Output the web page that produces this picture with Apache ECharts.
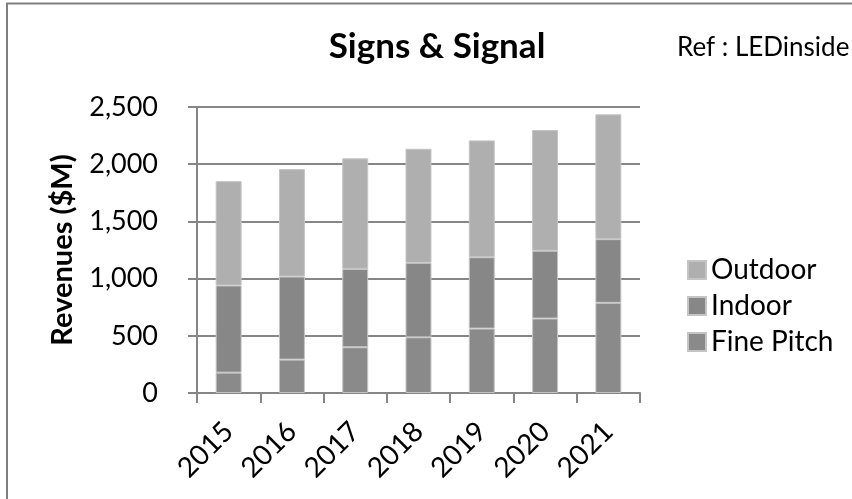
<!DOCTYPE html>
<html>
<head>
<meta charset="utf-8">
<style>
  html, body { margin: 0; padding: 0; background: #fff; }
  #chart { width: 852px; height: 499px; }
</style>
<script src="https://cdn.jsdelivr.net/npm/echarts@6/dist/echarts.min.js"></script>
</head>
<body>
<div id="chart"></div>
<script>
// Signs & Signal LED display revenues, $M, stacked by segment
const years = ['2015', '2016', '2017', '2018', '2019', '2020', '2021'];
const finePitch = [178, 292, 400, 487, 563, 651, 788];
const indoor = [762, 726, 685, 651, 624, 592, 557];
const outdoor = [912, 939, 966, 997, 1021, 1056, 1091];
const yTicks = [0, 500, 1000, 1500, 2000, 2500];

const FONT = 'Lato, "Open Sans", sans-serif';
const AXIS_GRAY = '#868686';

const chart = echarts.init(document.getElementById('chart'), null, { renderer: 'canvas' });

function barSeries(name, data, color) {
  return {
    name: name,
    type: 'bar',
    stack: 'total',
    data: data,
    barCategoryGap: '59%',
    itemStyle: { color: color, borderColor: '#c4c4c4', borderWidth: 1 },
    emphasis: { disabled: true }
  };
}

chart.setOption({
  animation: false,
  backgroundColor: '#ffffff',
  textStyle: { fontFamily: FONT },
  legend: {
    orient: 'vertical',
    left: 682, top: 251,
    itemWidth: 18, itemHeight: 18, itemGap: 8,
    icon: 'rect',
    data: ['Outdoor', 'Indoor', 'Fine Pitch'],
    textStyle: { fontFamily: FONT, fontSize: 28, color: '#000' }
  },
  grid: { left: 197, right: 212, top: 107, bottom: 106, containLabel: false },
  xAxis: {
    type: 'category',
    data: years,
    boundaryGap: true,
    axisLine: { lineStyle: { color: AXIS_GRAY, width: 2 } },
    axisTick: { show: true, length: 10, alignWithLabel: false, lineStyle: { color: AXIS_GRAY, width: 2 } },
    axisLabel: { rotate: 45, margin: 34, fontSize: 28, color: '#000', fontFamily: FONT, interval: 0 }
  },
  yAxis: {
    type: 'value',
    min: yTicks[0],
    max: yTicks[yTicks.length - 1],
    interval: 500,
    name: 'Revenues ($M)',
    nameLocation: 'middle',
    nameGap: 120,
    nameRotate: 90,
    nameTextStyle: { fontFamily: FONT, fontWeight: 'bold', fontSize: 29, color: '#000' },
    axisLine: { show: true, lineStyle: { color: AXIS_GRAY, width: 2 } },
    axisTick: { show: true, length: 9, lineStyle: { color: AXIS_GRAY, width: 2 } },
    axisLabel: {
      margin: 39, fontSize: 27, color: '#000', fontFamily: FONT,
      formatter: v => v.toLocaleString('en-US')
    },
    splitLine: { show: true, lineStyle: { color: AXIS_GRAY, width: 2 } }
  },
  graphic: [
    {
      type: 'rect',
      shape: { x: 7, y: 3.5, width: 1000, height: 700 },
      style: { fill: 'none', stroke: '#7f7f7f', lineWidth: 2 },
      silent: true
    },
    {
      type: 'text',
      x: 437, y: 47,
      style: {
        text: 'Signs & Signal', align: 'center', verticalAlign: 'middle',
        font: 'bold 35px ' + FONT, fill: '#000'
      },
      silent: true
    },
    {
      type: 'text',
      x: 677, y: 48,
      style: {
        text: 'Ref : LEDinside', align: 'left', verticalAlign: 'middle',
        font: '26px ' + FONT, fill: '#000'
      },
      silent: true
    }
  ],
  series: [
    barSeries('Fine Pitch', finePitch, '#8a8a8a'),
    barSeries('Indoor', indoor, '#878787'),
    barSeries('Outdoor', outdoor, '#afafaf')
  ]
});
</script>
</body>
</html>
